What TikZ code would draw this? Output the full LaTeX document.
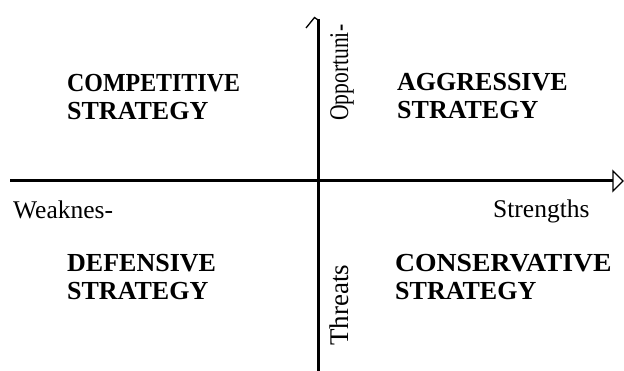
\documentclass[tikz,border=0pt]{standalone}
\usepackage{fontspec}
\setmainfont{Liberation Serif}
\begin{document}
\begin{tikzpicture}[x=1pt,y=-1pt,
  quad/.style={inner sep=0pt,anchor=base west,align=left,font=\fontsize{26}{28.5}\selectfont\bfseries},
  axlabel/.style={inner sep=0pt,anchor=base west,font=\fontsize{25.5}{28}\selectfont},
  vlabel/.style={axlabel,rotate=90,font=\fontsize{27}{30}\selectfont},
  axis/.style={line width=3pt,draw=black},
  head/.style={line width=1.3pt,draw=black,line join=miter}]
\useasboundingbox (0,0) rectangle (624,371);
% axes
\coordinate (hl) at (10,181);
\coordinate (hr) at (613,181);
\coordinate (vt) at (318,19);
\coordinate (vb) at (318,371);
\draw[axis] (hl) -- (hr);
\draw[head,fill=white] (613,171) -- (623,181) -- (613,191) -- cycle;
\draw[axis] (vb) -- (vt);
\draw[head] (306,28) -- (314.5,17.5) -- (319.5,21);
% quadrant labels (anchored at the baseline of the second line)
\node[quad] (comp) at (67,120) {\scalebox{0.92}[1]{COMPETITIVE}\\STRATEGY};
\node[quad] (aggr) at (397,119) {AGGRESSIVE\\STRATEGY};
\node[quad] (defe) at (67,300) {DEFENSIVE\\STRATEGY};
\node[quad] (cons) at (395,300) {\scalebox{1.065}[1]{CONSERVATIVE}\\STRATEGY};
% axis labels
\node[axlabel] (weak) at (13,219) {Weaknes-};
\node[axlabel] (stre) at (493,218) {Strengths};
\node[vlabel] (oppo) at (348,121) {\scalebox{0.8}[1]{Opportuni-}};
\node[vlabel] (thre) at (348,346) {Threats};
\end{tikzpicture}
\end{document}
